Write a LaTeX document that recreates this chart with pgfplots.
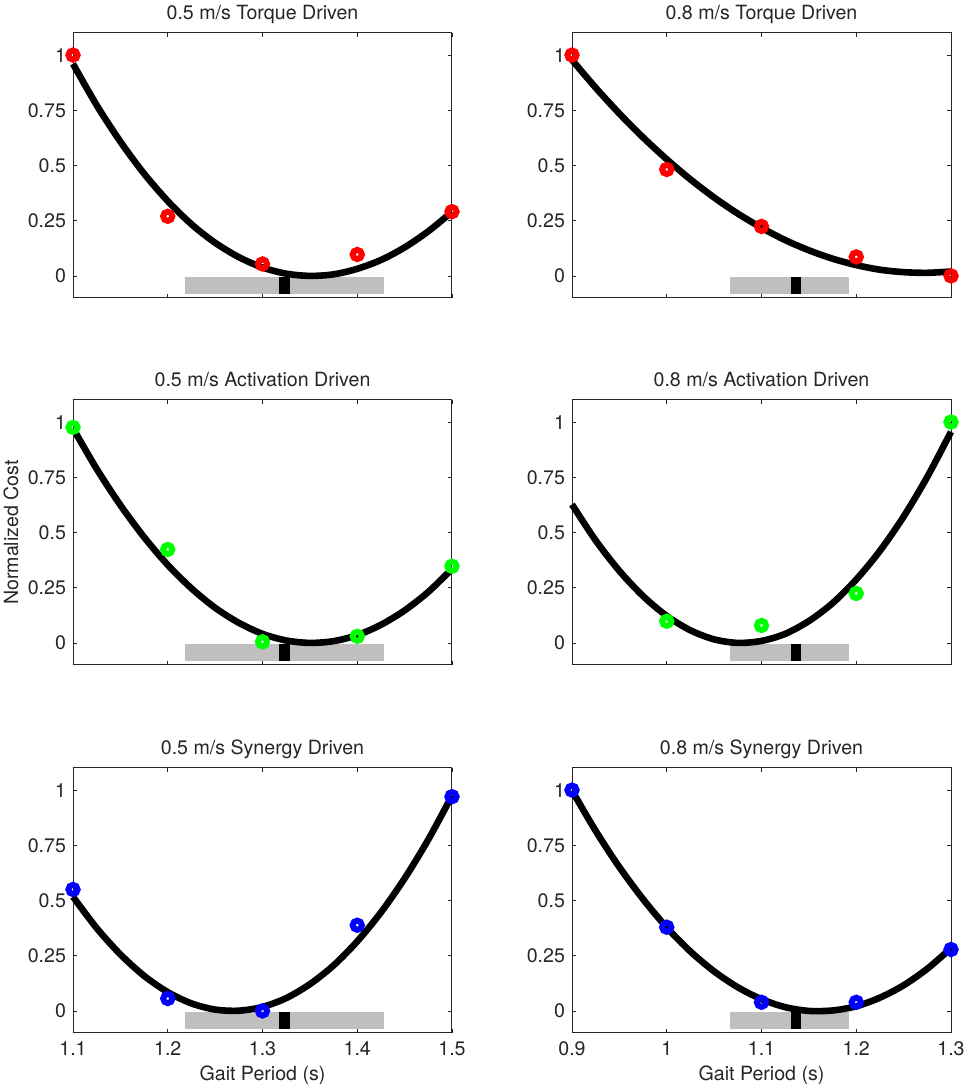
\documentclass[border=0pt]{standalone}
\usepackage{fontspec}
\setmainfont{TeX Gyre Heros}
\usepackage{pgfplots}
\pgfplotsset{compat=1.18}
\definecolor{barGray}{RGB}{191,191,191}
\definecolor{axGray}{RGB}{38,38,38}
\pgfplotsset{
  panel/.style={
    scale only axis, width=189.5pt, height=132.5pt,
    ymin=-0.1, ymax=1.1,
    ytick={0,0.25,0.5,0.75,1},
    tick align=inside, major tick length=1.9pt,
    xtick pos=both, ytick pos=both,
    xticklabel pos=lower, yticklabel pos=left,
    axis line style={line width=0.5pt, draw=axGray},
    every tick/.style={axGray, line width=0.4pt},
    clip=false,
    /pgf/number format/.cd, fixed, precision=2, assume math mode=true, /pgfplots/.cd,
    tick label style={font=\fontsize{9.8}{11}\selectfont, text=axGray},
    xticklabel style={anchor=base, yshift=-11.3pt},
    title style={font=\fontsize{9.8}{11}\selectfont, text=axGray, at={(axis description cs:0.5,1)}, anchor=base, yshift=0.5pt},
    label style={font=\fontsize{9.8}{11}\selectfont, text=axGray},
    xlabel style={at={(axis description cs:0.5,0)}, anchor=base, yshift=-23.7pt},
    ylabel style={at={(axis description cs:-0.1451,0.5)}, anchor=base},
  },
  leftcol/.style={xmin=1.1, xmax=1.5, xtick={1.1,1.2,1.3,1.4,1.5}},
  rightcol/.style={xmin=0.9, xmax=1.3, xtick={0.9,1.0,1.1,1.2,1.3}},
  nolab/.style={xticklabels={,,}},
  fitline/.style={black, line width=3.3pt, smooth},
  ring/.style={only marks, mark=o, mark size=2.3pt, mark options={line width=3pt, draw=#1}},
  graybar/.style={fill=barGray, draw=none, forget plot},
  blackbar/.style={fill=black, draw=none, forget plot},
}
\begin{document}
\begin{tikzpicture}
\useasboundingbox (0,0) rectangle (482.5pt,543pt);
% ---------- Row 1 ----------
\begin{axis}[panel, leftcol, nolab, at={(36.5pt,526.5pt)}, anchor=north west,
  title={0.5 m/s Torque Driven}]
\addplot[graybar] coordinates {(1.218,-0.082)(1.428,-0.082)(1.428,-0.006)(1.218,-0.006)};
\addplot[blackbar] coordinates {(1.317,-0.082)(1.3286,-0.082)(1.3286,-0.004)(1.317,-0.004)};
\addplot[fitline] coordinates {
(1.1,0.960)(1.125,0.773)(1.15,0.608)(1.175,0.463)(1.2,0.339)(1.225,0.234)(1.25,0.150)(1.275,0.085)
(1.3,0.038)(1.325,0.010)(1.35,0.000)(1.375,0.007)(1.4,0.032)(1.425,0.072)(1.45,0.129)(1.475,0.202)(1.5,0.290)};
\addplot[ring=red] coordinates {(1.1,1.0)(1.2,0.27)(1.3,0.054)(1.4,0.097)(1.5,0.291)};
\end{axis}
\begin{axis}[panel, rightcol, nolab, at={(286pt,526.5pt)}, anchor=north west,
  title={0.8 m/s Torque Driven}]
\addplot[graybar] coordinates {(1.067,-0.082)(1.192,-0.082)(1.192,-0.006)(1.067,-0.006)};
\addplot[blackbar] coordinates {(1.131,-0.082)(1.142,-0.082)(1.142,-0.004)(1.131,-0.004)};
\addplot[fitline] coordinates {
(0.9,0.978)(0.925,0.852)(0.95,0.735)(0.975,0.627)(1.0,0.528)(1.025,0.437)(1.05,0.355)(1.075,0.282)
(1.1,0.218)(1.125,0.162)(1.15,0.116)(1.175,0.078)(1.2,0.049)(1.225,0.028)(1.25,0.017)(1.275,0.014)(1.3,0.020)};
\addplot[ring=red] coordinates {(0.9,1.0)(1.0,0.482)(1.1,0.224)(1.2,0.086)(1.3,0.0)};
\end{axis}
% ---------- Row 2 ----------
\begin{axis}[panel, leftcol, nolab, at={(36.5pt,343pt)}, anchor=north west,
  title={0.5 m/s Activation Driven}, ylabel={Normalized Cost}]
\addplot[graybar] coordinates {(1.218,-0.082)(1.428,-0.082)(1.428,-0.006)(1.218,-0.006)};
\addplot[blackbar] coordinates {(1.317,-0.082)(1.3286,-0.082)(1.3286,-0.004)(1.317,-0.004)};
\addplot[fitline] coordinates {
(1.1,0.972)(1.125,0.788)(1.15,0.624)(1.175,0.479)(1.2,0.353)(1.225,0.247)(1.25,0.159)(1.275,0.091)
(1.3,0.041)(1.325,0.011)(1.35,0.000)(1.375,0.008)(1.4,0.035)(1.425,0.082)(1.45,0.147)(1.475,0.231)(1.5,0.335)};
\addplot[ring=green] coordinates {(1.1,0.976)(1.2,0.423)(1.3,0.005)(1.4,0.03)(1.5,0.347)};
\end{axis}
\begin{axis}[panel, rightcol, nolab, at={(286pt,343pt)}, anchor=north west,
  title={0.8 m/s Activation Driven}]
\addplot[graybar] coordinates {(1.067,-0.082)(1.192,-0.082)(1.192,-0.006)(1.067,-0.006)};
\addplot[blackbar] coordinates {(1.131,-0.082)(1.142,-0.082)(1.142,-0.004)(1.131,-0.004)};
\addplot[fitline] coordinates {
(0.9,0.627)(0.925,0.464)(0.95,0.326)(0.975,0.212)(1.0,0.122)(1.025,0.057)(1.05,0.016)(1.075,0.000)
(1.1,0.009)(1.125,0.041)(1.15,0.099)(1.175,0.180)(1.2,0.287)(1.225,0.417)(1.25,0.572)(1.275,0.752)(1.3,0.956)};
\addplot[ring=green] coordinates {(1.0,0.098)(1.1,0.079)(1.2,0.224)(1.3,1.0)};
\end{axis}
% ---------- Row 3 ----------
\begin{axis}[panel, leftcol, at={(36.5pt,159pt)}, anchor=north west,
  title={0.5 m/s Synergy Driven}, xlabel={Gait Period (s)}]
\addplot[graybar] coordinates {(1.218,-0.082)(1.428,-0.082)(1.428,-0.006)(1.218,-0.006)};
\addplot[blackbar] coordinates {(1.317,-0.082)(1.3286,-0.082)(1.3286,-0.004)(1.317,-0.004)};
\addplot[fitline] coordinates {
(1.1,0.517)(1.125,0.375)(1.15,0.256)(1.175,0.159)(1.2,0.085)(1.225,0.034)(1.25,0.006)(1.275,0.001)
(1.3,0.018)(1.325,0.058)(1.35,0.121)(1.375,0.206)(1.4,0.315)(1.425,0.446)(1.45,0.600)(1.475,0.776)(1.5,0.975)};
\addplot[ring=blue] coordinates {(1.1,0.55)(1.2,0.056)(1.3,0.0)(1.4,0.388)(1.5,0.97)};
\end{axis}
\begin{axis}[panel, rightcol, at={(286pt,159pt)}, anchor=north west,
  title={0.8 m/s Synergy Driven}, xlabel={Gait Period (s)}]
\addplot[graybar] coordinates {(1.067,-0.082)(1.192,-0.082)(1.192,-0.006)(1.067,-0.006)};
\addplot[blackbar] coordinates {(1.131,-0.082)(1.142,-0.082)(1.142,-0.004)(1.131,-0.004)};
\addplot[fitline] coordinates {
(0.9,0.998)(0.925,0.815)(0.95,0.651)(0.975,0.506)(1.0,0.378)(1.025,0.269)(1.05,0.179)(1.075,0.107)
(1.1,0.053)(1.125,0.017)(1.15,0.000)(1.175,0.002)(1.2,0.021)(1.225,0.060)(1.25,0.116)(1.275,0.191)(1.3,0.284)};
\addplot[ring=blue] coordinates {(0.9,1.0)(1.0,0.379)(1.1,0.039)(1.2,0.039)(1.3,0.278)};
\end{axis}
\end{tikzpicture}
\end{document}
